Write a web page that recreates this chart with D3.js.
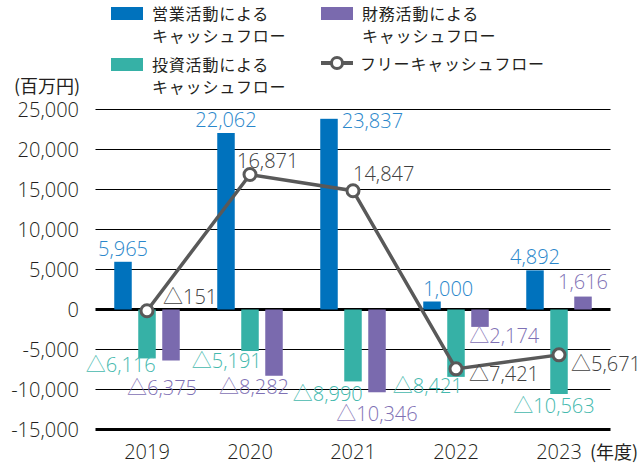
<!DOCTYPE html>
<html>
<head>
<meta charset="utf-8">
<script src="https://cdn.jsdelivr.net/npm/d3@7"></script>
<style>
  html, body { margin: 0; padding: 0; background: #fff; }
  svg { display: block; }
  text { font-family: "Open Sans", "Noto Sans", "Noto Sans CJK JP", sans-serif; font-weight: 300; }
  .jp, .jp text { font-family: "Noto Sans CJK JP", "Noto Sans", sans-serif; font-weight: 400; }
</style>
</head>
<body>
<svg id="chart" width="643" height="472"></svg>
<script>
// ---- data ----
const years = ["2019", "2020", "2021", "2022", "2023"];
const operatingCF = [5965, 22062, 23837, 1000, 4892];
const investingCF = [-6116, -5191, -8990, -8421, -10563];
const financingCF = [-6375, -8282, -10346, -2174, 1616];
const freeCF = [-151, 16871, 14847, -7421, -5671];
const yTicks = [25000, 20000, 15000, 10000, 5000, 0, -5000, -10000, -15000];
const yTickLabels = ["25,000", "20,000", "15,000", "10,000", "5,000", "0", "-5,000", "-10,000", "-15,000"];
const seriesNames = ["営業活動による\nキャッシュフロー", "投資活動による\nキャッシュフロー", "財務活動による\nキャッシュフロー", "フリーキャッシュフロー"];
const unitLabel = "(百万円)";
const yearSuffix = "(年度)";

// ---- styles ----
const colors = { op: "#0072bd", inv: "#36b1a6", fin: "#7a6aae", fcf: "#595959" };
const labelColors = { op: "#2a87cb", inv: "#45b9ae", fin: "#7f71b5", fcf: "#404040" };
const numSize = 20;

// label placement relative to marks: [dx, dy, anchor, ref]
const opLabelPos = [[0,-6,"middle","c"],[0,-6,"middle","c"],[4,9,"start","r"],[0,-6,"start","l"],[0,-6,"middle","c"]];
const invLabelPos = [[0,14,"end","r"],[3,17,"end","r"],[1,20,"end","r"],[-2,16,"end","r"],[-5,19,"middle","c"]];
const finLabelPos = [[-9,34,"middle","c"],[-20,18,"middle","c"],[0,29,"middle","c"],[-2,16,"start","l"],[0,-8,"middle","c"]];
const fcfLabelPos = [[16,-7,"start"],[-13,-7,"start"],[0,-10,"start"],[13,12,"start"],[12,16,"start"]];

const svg = d3.select("#chart");
const fmt = v => (v < 0 ? "△" : "") + d3.format(",")(Math.abs(v));

const x = d3.scaleBand().domain(years).range([95.5, 610.5]).padding(0);
const sub = d3.scaleBand().domain(["op", "inv", "fin"]).range([-32.75, 32.75]).paddingInner(0.271).paddingOuter(0);
const y = d3.scaleLinear().domain([-15000, 25000]).range([429.5, 109.5]);

// grid lines
svg.append("g").selectAll("line").data(yTicks).join("line")
  .attr("x1", x.range()[0]).attr("x2", x.range()[1])
  .attr("y1", d => y(d)).attr("y2", d => y(d))
  .attr("stroke", "#000")
  .attr("stroke-width", d => (d === 0 || d === -15000) ? 3 : 1.2);

// y tick labels
svg.append("g").selectAll("text").data(yTicks).join("text")
  .attr("x", 79).attr("y", d => y(d)).attr("dy", "0.35em")
  .attr("text-anchor", "end").attr("font-size", numSize).attr("fill", "#231f20")
  .text((d, i) => yTickLabels[i]);

svg.append("text").attr("class", "jp").attr("x", 14).attr("y", 93)
  .attr("font-size", 18).attr("fill", "#231f20").text(unitLabel);

// x labels
svg.append("g").selectAll("text").data(years).join("text")
  .attr("x", d => x(d) + x.bandwidth() / 2).attr("y", 459)
  .attr("text-anchor", "middle").attr("font-size", numSize).attr("fill", "#231f20")
  .text(d => d);
svg.append("text").attr("class", "jp")
  .attr("x", x(years[4]) + x.bandwidth() / 2 + 31).attr("y", 459)
  .attr("font-size", 18).attr("fill", "#231f20").text(yearSuffix);

// bars
const seriesList = [
  { key: "op", values: operatingCF, pos: opLabelPos },
  { key: "inv", values: investingCF, pos: invLabelPos },
  { key: "fin", values: financingCF, pos: finLabelPos }
];
seriesList.forEach(s => {
  const g = svg.append("g");
  const bx = (i) => x(years[i]) + x.bandwidth() / 2 + sub(s.key);
  g.selectAll("rect").data(s.values).join("rect")
    .attr("x", (d, i) => bx(i))
    .attr("width", sub.bandwidth())
    .attr("y", d => y(Math.max(0, d)))
    .attr("height", d => Math.abs(y(d) - y(0)))
    .attr("fill", colors[s.key]);
  g.selectAll("text").data(s.values).join("text")
    .attr("x", (d, i) => {
      const p = s.pos[i];
      const ref = p[3] === "l" ? bx(i) : p[3] === "r" ? bx(i) + sub.bandwidth() : bx(i) + sub.bandwidth() / 2;
      return ref + p[0];
    })
    .attr("y", (d, i) => y(d) + s.pos[i][1])
    .attr("text-anchor", (d, i) => s.pos[i][2])
    .attr("font-size", numSize).attr("fill", labelColors[s.key])
    .text(d => fmt(d));
});

// free cash flow line
const cx = (i) => x(years[i]) + x.bandwidth() / 2;
const line = d3.line().x((d, i) => cx(i)).y(d => y(d));
svg.append("path").datum(freeCF).attr("d", line)
  .attr("fill", "none").attr("stroke", colors.fcf).attr("stroke-width", 3.5);
svg.append("g").selectAll("circle").data(freeCF).join("circle")
  .attr("cx", (d, i) => cx(i)).attr("cy", d => y(d)).attr("r", 6)
  .attr("fill", "#fff").attr("stroke", colors.fcf).attr("stroke-width", 3);
svg.append("g").selectAll("text").data(freeCF).join("text")
  .attr("x", (d, i) => cx(i) + fcfLabelPos[i][0])
  .attr("y", d => y(d)).attr("dy", (d, i) => fcfLabelPos[i][1])
  .attr("text-anchor", (d, i) => fcfLabelPos[i][2])
  .attr("font-size", numSize).attr("fill", labelColors.fcf)
  .text(d => fmt(d));

// legend
const legend = svg.append("g").attr("class", "jp");
const legendItems = [
  { name: seriesNames[0], color: colors.op, x: 111, y: 6 },
  { name: seriesNames[2], color: colors.fin, x: 321, y: 6 },
  { name: seriesNames[1], color: colors.inv, x: 111, y: 57 }
];
legendItems.forEach(it => {
  legend.append("rect").attr("x", it.x).attr("y", it.y + 1).attr("width", 32).attr("height", 13).attr("fill", it.color);
  const t = legend.append("text").attr("x", it.x + 41).attr("y", it.y + 14)
    .attr("font-size", 16).attr("letter-spacing", 0.8).attr("fill", "#231f20");
  it.name.split("\n").forEach((ln, k) => {
    t.append("tspan").attr("x", it.x + 41).attr("dy", k === 0 ? 0 : 22).text(ln);
  });
});
legend.append("line").attr("x1", 321).attr("x2", 353).attr("y1", 63).attr("y2", 63)
  .attr("stroke", colors.fcf).attr("stroke-width", 4);
legend.append("circle").attr("cx", 337).attr("cy", 63).attr("r", 5.5)
  .attr("fill", "#fff").attr("stroke", colors.fcf).attr("stroke-width", 3);
legend.append("text").attr("x", 360).attr("y", 70).attr("font-size", 16).attr("letter-spacing", 0.8)
  .attr("fill", "#231f20").text(seriesNames[3]);
</script>
</body>
</html>
